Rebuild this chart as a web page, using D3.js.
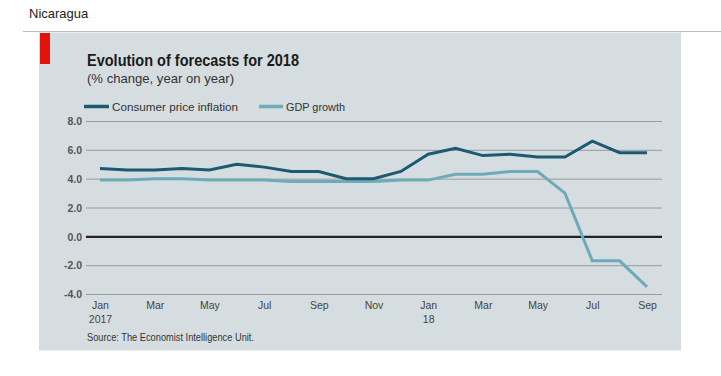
<!DOCTYPE html>
<html>
<head>
<meta charset="utf-8">
<script src="https://cdn.jsdelivr.net/npm/d3@7"></script>
<style>
  html, body { margin: 0; padding: 0; background: #fff; }
  svg { display: block; }
</style>
</head>
<body>
<svg id="chart" width="721" height="376"></svg>
<script>
// ---- Data ----
const months = ["Jan","Feb","Mar","Apr","May","Jun","Jul","Aug","Sep","Oct","Nov","Dec",
                "Jan","Feb","Mar","Apr","May","Jun","Jul","Aug","Sep"];
const cpiInflation = [4.7,4.6,4.6,4.7,4.6,5.0,4.8,4.5,4.5,4.0,4.0,4.5,
                      5.7,6.1,5.6,5.7,5.5,5.5,6.6,5.8,5.8];
const gdpGrowth = [3.9,3.9,4.0,4.0,3.9,3.9,3.9,3.8,3.8,3.8,3.8,3.9,
                   3.9,4.3,4.3,4.5,4.5,3.0,-1.7,-1.7,-3.5];
const yTicks = [8, 6, 4, 2, 0, -2, -4];
const xTickIdx = [0,2,4,6,8,10,12,14,16,18,20];
const yearLabels = {0: "2017", 12: "18"};
const seriesNames = ["Consumer price inflation", "GDP growth"];
const colors = ["#1c5a72", "#6eaab8"];

const svg = d3.select("#chart");
const font = "'Liberation Sans Narrow','Liberation Sans',Arial,sans-serif";

// page header
svg.append("text").attr("x", 29).attr("y", 18)
  .attr("font-family", "'Liberation Sans',Arial,sans-serif").attr("font-size", 13)
  .attr("fill", "#222").text("Nicaragua");
svg.append("line").attr("x1", 23).attr("x2", 721).attr("y1", 31.5).attr("y2", 31.5)
  .attr("stroke", "#bdbdbd").attr("stroke-width", 1);

// panel
svg.append("rect").attr("x", 39).attr("y", 32.5).attr("width", 642).attr("height", 318)
  .attr("fill", "#d5dde0");
svg.append("rect").attr("x", 40).attr("y", 33).attr("width", 10).attr("height", 31)
  .attr("fill", "#e3120b");

// titles
svg.append("text").attr("x", 87).attr("y", 66)
  .attr("font-family", font).attr("font-size", 17).attr("font-weight", "bold")
  .attr("fill", "#1a1a1a").attr("textLength", 212).attr("lengthAdjust", "spacingAndGlyphs")
  .text("Evolution of forecasts for 2018");
svg.append("text").attr("x", 87).attr("y", 83)
  .attr("font-family", font).attr("font-size", 13)
  .attr("fill", "#333").attr("textLength", 147).attr("lengthAdjust", "spacingAndGlyphs")
  .text("(% change, year on year)");

// legend
const legend = [
  {x1: 84, x2: 109, tx: 112, tl: 126},
  {x1: 259, x2: 283, tx: 286, tl: 59}
];
legend.forEach((l, i) => {
  svg.append("line").attr("x1", l.x1).attr("x2", l.x2).attr("y1", 106.5).attr("y2", 106.5)
    .attr("stroke", colors[i]).attr("stroke-width", 3.5);
  svg.append("text").attr("x", l.tx).attr("y", 110.5)
    .attr("font-family", font).attr("font-size", 11.5).attr("fill", "#333")
    .attr("textLength", l.tl).attr("lengthAdjust", "spacingAndGlyphs")
    .text(seriesNames[i]);
});

// scales
const x = d3.scaleLinear().domain([0, 20]).range([100, 647]);
const y = d3.scaleLinear().domain([-4, 8]).range([294, 121]);

// y axis with gridlines
const fmt = d3.format(".1f");
const yAxis = svg.append("g").attr("transform", "translate(86,0)")
  .call(d3.axisLeft(y).tickValues(yTicks).tickSize(-576).tickPadding(4)
        .tickFormat(d => fmt(d).replace("\u2212", "-")));
yAxis.select(".domain").remove();
yAxis.selectAll(".tick line")
  .attr("stroke", d => d === 0 ? "#222" : "#9a9a9a")
  .attr("stroke-width", d => d === 0 ? 2.2 : 1);
yAxis.selectAll(".tick text")
  .attr("font-family", font).attr("font-size", 10.5).attr("fill", "#555")
  .attr("font-weight", "bold").attr("dy", "0.35em");

// x axis labels
const xAxis = svg.append("g").attr("transform", "translate(0,294)")
  .call(d3.axisBottom(x).tickValues(xTickIdx).tickSize(0).tickPadding(8)
        .tickFormat(i => months[i]));
xAxis.select(".domain").remove();
xAxis.selectAll(".tick text")
  .attr("font-family", font).attr("font-size", 10.5).attr("fill", "#444");
xAxis.selectAll(".tick").filter(i => yearLabels[i] !== undefined)
  .append("text").attr("y", 29).attr("fill", "#444")
  .attr("font-family", font).attr("font-size", 10.5).attr("text-anchor", "middle")
  .text(i => yearLabels[i]);

// lines
const line = d3.line().x((d, i) => x(i)).y(d => y(d));
[gdpGrowth, cpiInflation].forEach((s, k) => {
  svg.append("path").datum(s).attr("d", line)
    .attr("fill", "none").attr("stroke", k === 0 ? colors[1] : colors[0])
    .attr("stroke-width", 3).attr("stroke-linejoin", "miter");
});

// source
svg.append("text").attr("x", 87).attr("y", 341)
  .attr("font-family", font).attr("font-size", 10.5).attr("fill", "#333")
  .attr("textLength", 167).attr("lengthAdjust", "spacingAndGlyphs")
  .text("Source: The Economist Intelligence Unit.");
</script>
</body>
</html>
